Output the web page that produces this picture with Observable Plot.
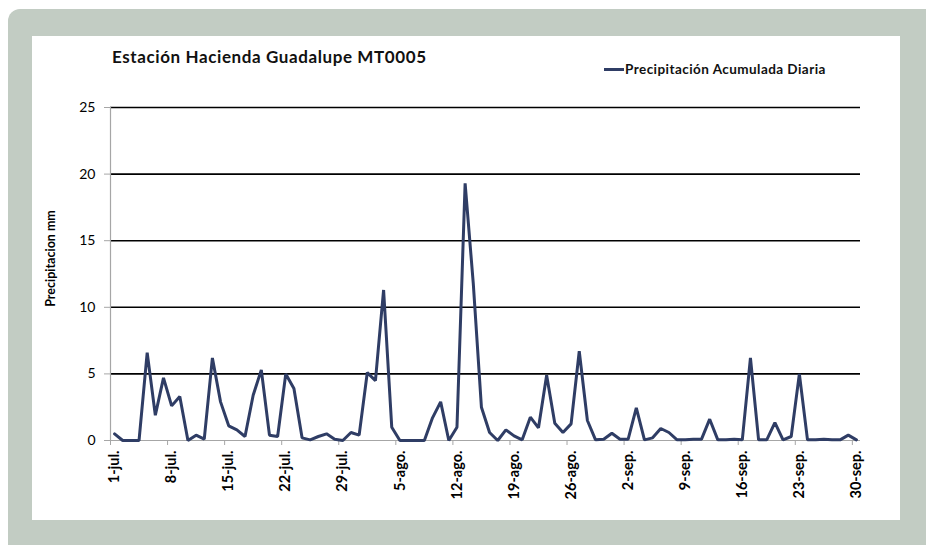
<!DOCTYPE html>
<html>
<head>
<meta charset="utf-8">
<script src="https://cdn.jsdelivr.net/npm/d3@7"></script>
<script src="https://cdn.jsdelivr.net/npm/@observablehq/plot@0.6"></script>
<style>
  html, body { margin: 0; padding: 0; background: #fff; }
  body { width: 926px; height: 545px; position: relative; overflow: hidden; font-family: Lato, "Open Sans", sans-serif; }
  #outer { position: absolute; left: 8px; top: 9px; width: 918px; height: 536px; background: #C2CCC3; border-top-left-radius: 12px; }
  #panel { position: absolute; left: 32px; top: 36px; width: 868px; height: 484px; background: #fff; }
  #title { position: absolute; left: 80px; top: 10px; font-size: 17px; letter-spacing: 0.6px; font-weight: bold; color: #111; white-space: nowrap; }
  #legend { position: absolute; left: 572px; top: 25px; font-size: 13.5px; letter-spacing: 0.45px; font-weight: bold; color: #111; white-space: nowrap; display: flex; align-items: center; }
  #legend .sw { display: inline-block; width: 20px; height: 3px; background: #2F3D65; margin-right: 1px; }
  #chart { position: absolute; left: 0; top: 0; }
</style>
</head>
<body>
<div id="outer"></div>
<div id="panel">
  <div id="chart"></div>
  <div id="title">Estación Hacienda Guadalupe MT0005</div>
  <div id="legend"><span class="sw"></span>Precipitación Acumulada Diaria</div>
</div>
<script>
// Daily accumulated precipitation (mm), 1-jul to 30-sep
const values = [
  0.5, 0, 0, 0, 6.6, 1.9, 4.7, 2.6, 3.3, 0,
  0.4, 0.1, 6.2, 2.9, 1.1, 0.8, 0.3, 3.4, 5.3, 0.4,
  0.3, 5.0, 3.9, 0.2, 0.05, 0.3, 0.5, 0.1, 0, 0.6,
  0.4, 5.1, 4.5, 11.3, 1.0, 0, 0, 0, 0, 1.7,
  2.9, 0, 1.0, 19.3, 11.8, 2.5, 0.6, 0, 0.8, 0.35,
  0.05, 1.75, 0.95, 4.9, 1.3, 0.6, 1.25, 6.7, 1.5, 0.05,
  0.1, 0.55, 0.1, 0.1, 2.45, 0.05, 0.2, 0.9, 0.6, 0.05,
  0.05, 0.1, 0.1, 1.6, 0.05, 0.05, 0.1, 0.05, 6.2, 0.05,
  0.05, 1.35, 0.05, 0.3, 5.0, 0.05, 0.05, 0.1, 0.05, 0.05,
  0.4, 0.05
];
const tickLabels = ["1-jul.","8-jul.","15-jul.","22-jul.","29-jul.","5-ago.","12-ago.","19-ago.","26-ago.","2-sep.","9-sep.","16-sep.","23-sep.","30-sep."];
const yTicks = [0, 5, 10, 15, 20, 25];
const gridTicks = [5, 10, 15, 20, 25];

const DAY = 86400000;
const start = Date.UTC(2012, 6, 1);
const dates = values.map((v, i) => new Date(start + i * DAY));
const tickDates = tickLabels.map((_, k) => dates[k * 7]);
const tickMarkDates = tickDates.map(d => new Date(+d - DAY / 2));
const labelOf = new Map(tickDates.map((d, k) => [+d, tickLabels[k]]));
const xMin = new Date(+dates[0] - DAY / 2);
const xMax = new Date(+dates[dates.length - 1] + DAY / 2);

const chart = Plot.plot({
  width: 868,
  height: 484,
  marginLeft: 78,
  marginRight: 40,
  marginTop: 71,
  marginBottom: 80,
  style: { fontFamily: "Lato, 'Open Sans', sans-serif", color: "#000", background: "transparent" },
  x: { type: "utc", domain: [xMin, xMax] },
  y: { domain: [0, 25] },
  marks: [
    Plot.gridY(gridTicks, { stroke: "#000", strokeOpacity: 1, strokeWidth: 1.6 }),
    Plot.ruleY([0], { stroke: "#a6a6a6", strokeWidth: 1.2 }),
    Plot.ruleX([xMin], { stroke: "#a6a6a6", strokeWidth: 1.2 }),
    Plot.axisY({ ticks: yTicks, tickSize: 6, tickPadding: 9, fontSize: 14, label: null, stroke: "#a6a6a6", fill: "#000" }),
    Plot.axisX({ ticks: tickMarkDates, tickSize: 5, tickFormat: () => "", label: null, stroke: "#a6a6a6" }),
    Plot.axisX({ ticks: tickDates, tickSize: 0, tickPadding: 10, tickRotate: -90, tickFormat: d => labelOf.get(+d), fontSize: 14.5, fontWeight: "bold", label: null, fill: "#000" }),
    Plot.lineY(values, { x: dates, y: values, stroke: "#2F3D65", strokeWidth: 3, strokeLinejoin: "miter" }),
    Plot.text(["Precipitacion mm"], { frameAnchor: "left", textAnchor: "middle", rotate: -90, dx: -60, dy: -15.5, fontSize: 12.5, fontWeight: "bold", fill: "#000", style: "letter-spacing: 0.6px" })
  ]
});
document.getElementById("chart").appendChild(chart);
</script>
</body>
</html>
